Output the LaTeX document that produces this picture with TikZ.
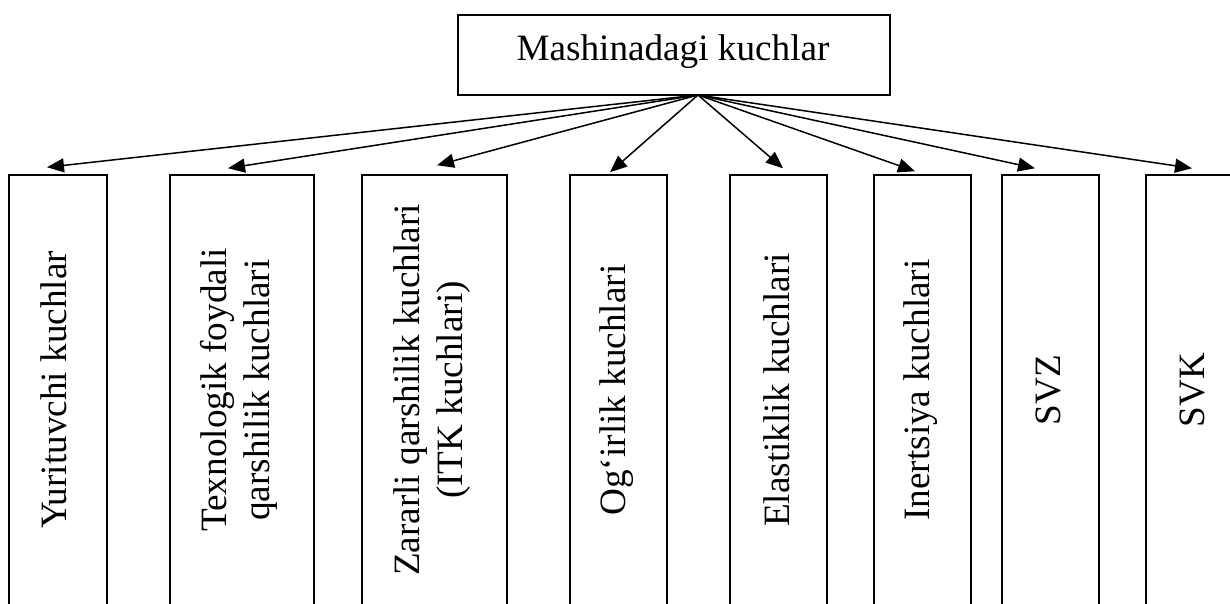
\documentclass[tikz,border=0pt]{standalone}
\usepackage{fontspec}
\setmainfont{Liberation Serif}
\usetikzlibrary{arrows.meta}
\begin{document}
\begin{tikzpicture}[x=1pt,y=1pt,
  box/.style={draw, line width=1.5pt, rectangle, inner sep=0pt, minimum height=430pt},
  txt/.style={inner sep=0pt, align=center, font=\fontsize{37.2}{43}\selectfont},
  arr/.style={line width=1.5pt, -{Triangle[length=17pt,width=14pt]}}]
\useasboundingbox (0,0) rectangle (1230,-603);
\begin{scope}
\clip (0,0) rectangle (1230,-603);
\node[draw, line width=1.5pt, minimum width=432pt, minimum height=80pt, inner sep=0pt] (top) at (674,-55) {};
\node[txt, anchor=base] (t0) at (673,-60) {Mashinadagi kuchlar};
\coordinate (o) at (698,-95);
\node[box, minimum width=98pt] (b1) at (58,-390) {};
\node[box, minimum width=144pt] (b2) at (242,-390) {};
\node[box, minimum width=145pt] (b3) at (434.5,-390) {};
\node[box, minimum width=97pt] (b4) at (618.5,-390) {};
\node[box, minimum width=97pt] (b5) at (778.5,-390) {};
\node[box, minimum width=97pt] (b6) at (922.5,-390) {};
\node[box, minimum width=97pt] (b7) at (1050.5,-390) {};
\node[box, minimum width=97pt] (b8) at (1194.5,-390) {};
\node[txt, rotate=90] (l1) at ([xshift=-4pt]b1.center) {Yurituvchi kuchlar};
\node[txt, rotate=90] (l2) at ([xshift=-3pt]b2.center) {Texnologik foydali\\qarshilik kuchlari};
\node[txt, rotate=90] (l3) at ([xshift=-2pt]b3.center) {Zararli qarshilik kuchlari\\(ITK kuchlari)};
\node[txt, rotate=90] (l4) at ([xshift=-2pt]b4.center) {Og‘irlik kuchlari};
\node[txt, rotate=90] (l5) at ([xshift=-2pt]b5.center) {Elastiklik kuchlari};
\node[txt, rotate=90] (l6) at ([xshift=-2pt]b6.center) {Inertsiya kuchlari};
\node[txt, rotate=90] (l7) at ([xshift=-2pt]b7.center) {SVZ};
\node[txt, rotate=90] (l8) at ([xshift=-2pt]b8.center) {SVK};
\draw[arr] (o) -- ([xshift=-11pt,yshift=7pt]b1.north);
\draw[arr] (o) -- ([xshift=-14pt,yshift=6pt]b2.north);
\draw[arr] (o) -- ([xshift=2.5pt,yshift=9pt]b3.north);
\draw[arr] (o) -- ([xshift=-8.5pt,yshift=2pt]b4.north);
\draw[arr] (o) -- ([xshift=4.5pt,yshift=6pt]b5.north);
\draw[arr] (o) -- ([xshift=-7.5pt,yshift=3pt]b6.north);
\draw[arr] (o) -- ([xshift=-15.5pt,yshift=6pt]b7.north);
\draw[arr] (o) -- ([xshift=-2.5pt,yshift=6pt]b8.north);
\end{scope}
\end{tikzpicture}
\end{document}
